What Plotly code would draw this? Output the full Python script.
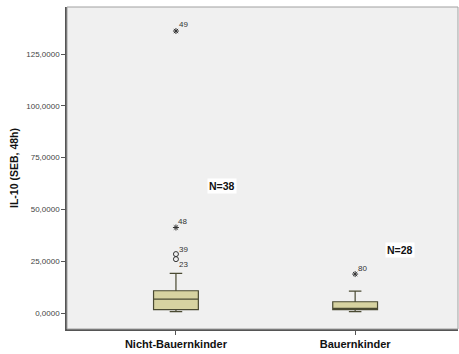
import plotly.graph_objects as go

categories = ["Nicht-Bauernkinder", "Bauernkinder"]
q1 = [1590, 1590]
median = [6750, 2200]
q3 = [10750, 5450]
lower_whisker = [630, 630]
upper_whisker = [19090, 10600]
n_labels = ["N=38", "N=28"]

# outliers: (group index, value, case label, kind)
out_group = [0, 0, 0, 0, 1]
out_value = [136100, 41270, 28450, 26000, 18800]
out_case = ["49", "48", "39", "23", "80"]
out_kind = ["extreme", "extreme", "mild", "mild", "extreme"]

tick_vals = [0, 25000, 50000, 75000, 100000, 125000]
tick_text = ["0,0000", "25,0000", "50,0000", "75,0000", "100,0000", "125,0000"]

fig = go.Figure()
xs = list(range(len(categories)))
fig.add_trace(go.Box(
    x=xs, q1=q1, median=median, q3=q3,
    lowerfence=lower_whisker, upperfence=upper_whisker,
    width=0.25, whiskerwidth=0.28,
    fillcolor="#d7d3a1", line=dict(color="#4a4a32", width=1.2),
    boxpoints=False, showlegend=False, hoverinfo="skip",
))

for kind, sym, size, lw in [("extreme", "asterisk-open", 5, 1.0), ("mild", "circle-open", 5, 1.0)]:
    idx = [i for i, k in enumerate(out_kind) if k == kind]
    fig.add_trace(go.Scatter(
        x=[out_group[i] for i in idx], y=[out_value[i] for i in idx],
        mode="markers", showlegend=False, hoverinfo="skip",
        marker=dict(symbol=sym, size=size, color="#333333", line=dict(color="#333333", width=lw)),
    ))

shifts = {"49": (8, 7), "48": (7, 6), "39": (8, 5), "23": (8, -5), "80": (7, 6)}
for g, v, c in zip(out_group, out_value, out_case):
    dx, dy = shifts[c]
    fig.add_annotation(x=g, y=v, text=c, showarrow=False, xanchor="center", yanchor="middle",
                       xshift=dx, yshift=dy, font=dict(size=8, color="#333333", family="Arial"))

n_pos = [(0.257, 61520), (1.251, 30520)]
for (nx, ny), t in zip(n_pos, n_labels):
    fig.add_annotation(x=nx, y=ny, text="<b>" + t + "</b>", showarrow=False,
                       font=dict(size=10.5, color="#111111", family="Arial"),
                       bgcolor="white", borderpad=1)

fig.add_shape(type="rect", xref="paper", yref="paper", x0=0, y0=0, x1=1, y1=1,
              line=dict(color="#a0a0a0", width=1), layer="above")

fig.update_layout(
    width=459, height=354,
    margin=dict(l=67, r=1, t=7, b=25),
    paper_bgcolor="white", plot_bgcolor="#f0f0f0",
    font=dict(family="Arial", color="#333333"),
    xaxis=dict(range=[-0.608, 1.574], tickvals=xs,
               ticktext=["<b>" + c + "</b>" for c in categories],
               tickfont=dict(size=11, color="#111111"),
               showgrid=False, zeroline=False, showline=True, linecolor="#555555", linewidth=1.5,
               ticks="outside", ticklen=4, tickcolor="#555555"),
    yaxis=dict(range=[-7714, 147700], tickvals=tick_vals, ticktext=tick_text,
               tickfont=dict(size=8, color="#444444"),
               showgrid=False, zeroline=False, showline=True, linecolor="#555555", linewidth=1.5,
               ticks="outside", ticklen=4, tickcolor="#555555",
               title=dict(text="<b>IL-10 (SEB, 48h)</b>", font=dict(size=10.5, color="#111111"), standoff=6)),
)

fig.write_html("out.html", config={"displayModeBar": False},
               post_script="document.body.style.margin='0px';document.body.style.overflow='hidden';")
